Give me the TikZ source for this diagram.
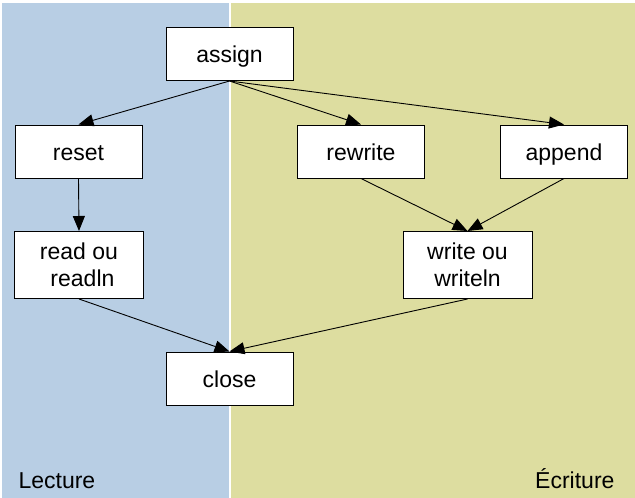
\documentclass[tikz,border=0pt]{standalone}
\usepackage{fontspec}
\setmainfont{Liberation Sans}
\usetikzlibrary{arrows.meta}
\definecolor{lectbg}{RGB}{184,206,228}
\definecolor{ecrbg}{RGB}{221,221,160}
\tikzset{
  box/.style={draw=black, fill=white, line width=1pt, minimum width=127pt, minimum height=53pt, inner sep=0pt, align=center, font=\fontsize{23}{27}\selectfont},
  tallbox/.style={box, minimum width=129pt, minimum height=67pt},
  onel/.style={text height=18pt, text depth=1pt},
  conn/.style={draw=black, line width=0.9pt, -{Triangle[length=15pt,width=12pt]}},
  region/.style={font=\fontsize{23}{27}\selectfont}
}
\begin{document}
\begin{tikzpicture}[x=1pt,y=-1pt]
\useasboundingbox (0,0) rectangle (635,498);
\fill[lectbg] (2,3) rectangle (229,498);
\fill[ecrbg] (231,3) rectangle (635,498);
\node[box,onel] (assign) at (229.5,54) {assign};
\node[box,onel] (reset) at (78.5,151.5) {reset};
\node[box,onel] (rewrite) at (361,151.5) {rewrite};
\node[box,onel] (append) at (564,151.5) {append};
\node[tallbox] (read) at (79,265) {read ou\\ \hspace*{0.3em}readln};
\node[tallbox] (write) at (467.5,265) {write ou\\ writeln};
\node[box,onel] (close) at (229.5,378.5) {close};
\node[region, anchor=base west] (lecture) at (15,488) {Lecture};
\node[region, anchor=base east] (ecriture) at (618,488) {Écriture};
\draw[conn] (assign.south) -- (reset.north);
\draw[conn] (assign.south) -- (rewrite.north);
\draw[conn] (assign.south) -- (append.north);
\draw[conn] (reset.south) -- (read.north);
\draw[conn] (rewrite.south) -- (write.north);
\draw[conn] (append.south) -- (write.north);
\draw[conn] (read.south) -- (close.north);
\draw[conn] (write.south) -- (close.north);
\end{tikzpicture}
\end{document}
